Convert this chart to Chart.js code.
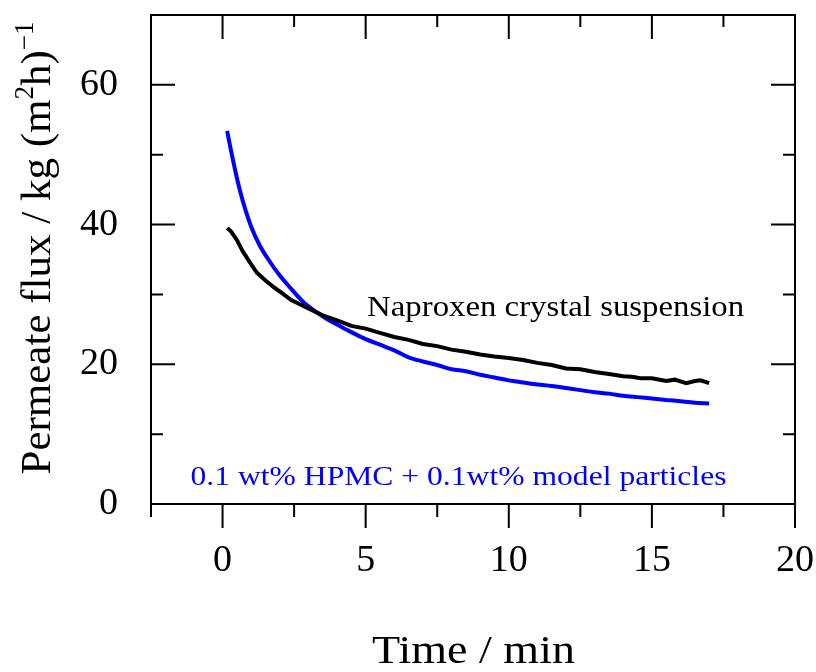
<!DOCTYPE html>
<html>
<head>
<meta charset="utf-8">
<script src="https://cdn.jsdelivr.net/npm/chart.js@4.4.1/dist/chart.umd.min.js"></script>
<style>
  html, body { margin: 0; padding: 0; background: #fff; }
  #wrap { width: 816px; height: 672px; }
</style>
</head>
<body>
<div id="wrap"><canvas id="fluxChart" width="816" height="672"></canvas></div>
<script>
// time (min) and permeate flux (kg/(m2 h))
var naproxenTime = [0.16, 0.3, 0.5, 0.7, 1.0, 1.2, 1.5, 1.8, 2.1, 2.4, 2.7, 3.0, 3.5, 4.0, 4.5, 5.0, 5.5, 6.0, 6.5, 7.0,
  7.5, 8.0, 8.5, 9.0, 9.5, 10.0, 10.5, 11.0, 11.5, 12.0, 12.5, 13.0, 13.5, 14.0, 14.3, 14.6, 15.0, 15.5, 15.8, 16.2, 16.5, 16.7, 17.0];
var naproxenFlux = [39.5, 39.0, 37.8, 36.2, 34.3, 33.1, 32.0, 31.0, 30.1, 29.2, 28.6, 28.0, 27.0, 26.3, 25.5, 25.1, 24.5, 23.9, 23.5, 22.9,
  22.6, 22.1, 21.8, 21.4, 21.1, 20.9, 20.6, 20.2, 19.9, 19.4, 19.3, 18.9, 18.6, 18.3, 18.2, 18.0, 18.0, 17.6, 17.8, 17.3, 17.6, 17.7, 17.3];

var hpmcTime = [0.16, 0.3, 0.45, 0.6, 0.8, 1.0, 1.3, 1.6, 2.0, 2.4, 2.8, 3.2, 3.6, 4.0, 4.5, 5.0, 5.5, 6.0, 6.5, 7.0,
  7.5, 8.0, 8.5, 9.0, 9.5, 10.0, 10.5, 11.0, 11.5, 12.0, 12.5, 13.0, 13.5, 14.0, 14.5, 15.0, 15.5, 16.0, 16.5, 17.0];
var hpmcFlux = [53.4, 50.5, 47.6, 45.0, 42.1, 39.7, 37.0, 35.0, 32.7, 30.8, 29.0, 27.7, 26.6, 25.7, 24.6, 23.6, 22.8, 22.0, 21.0, 20.4,
  19.9, 19.3, 19.0, 18.5, 18.1, 17.7, 17.4, 17.1, 16.9, 16.6, 16.3, 16.0, 15.8, 15.5, 15.3, 15.1, 14.9, 14.7, 14.5, 14.4];

var xTickLabels = [0, 5, 10, 15, 20];
var yTickLabels = [0, 20, 40, 60];

function toPoints(xs, ys) {
  return xs.map(function (x, i) { return { x: x, y: ys[i] }; });
}

var serif = '"Liberation Serif", "DejaVu Serif", serif';

function noPad(s) {
  s.paddingTop = 0; s.paddingBottom = 0; s.paddingLeft = 0; s.paddingRight = 0;
}

// the original uses a wider (Palatino-like) face, so stretch text to its width
function wideText(ctx, txt, x, y, font, width) {
  ctx.save();
  ctx.font = font;
  ctx.textAlign = 'left';
  var k = width / ctx.measureText(txt).width;
  ctx.translate(x, y);
  ctx.scale(k, 1);
  ctx.fillText(txt, 0, 0);
  ctx.restore();
}

// frame, ticks, titles and the two in-plot labels
var framePlugin = {
  id: 'frame',
  afterDraw: function (chart) {
    var ctx = chart.ctx;
    var xs = chart.scales.x, ys = chart.scales.y;
    var a = chart.chartArea;
    ctx.save();
    ctx.strokeStyle = '#000';
    ctx.lineWidth = 2;
    ctx.lineCap = 'butt';
    ctx.strokeRect(a.left, a.top, a.right - a.left, a.bottom - a.top);

    ctx.beginPath();
    for (var v = -2.5; v <= 20.001; v += 2.5) {
      var px = xs.getPixelForValue(v);
      var major = Math.abs(v % 5) < 0.001;
      // bottom ticks point outward, top ticks inward
      ctx.moveTo(px, a.bottom);
      ctx.lineTo(px, a.bottom + (major ? 24 : 13));
      ctx.moveTo(px, a.top);
      ctx.lineTo(px, a.top + (major ? 24 : 12));
    }
    for (var w = 0; w <= 70; w += 10) {
      var py = ys.getPixelForValue(w);
      var len = (w % 20 === 0) ? 24 : 12;
      ctx.moveTo(a.left, py);
      ctx.lineTo(a.left + len, py);
      ctx.moveTo(a.right, py);
      ctx.lineTo(a.right - len, py);
    }
    ctx.stroke();

    // in-plot labels
    ctx.textBaseline = 'alphabetic';
    ctx.fillStyle = '#000';
    wideText(ctx, 'Naproxen crystal suspension', xs.getPixelForValue(5.05), ys.getPixelForValue(26.9), '29px ' + serif, 377);
    ctx.fillStyle = '#0000ff';
    wideText(ctx, '0.1 wt% HPMC + 0.1wt% model particles', xs.getPixelForValue(-1.12), ys.getPixelForValue(2.7), '28px ' + serif, 536);

    // x title
    ctx.fillStyle = '#000';
    wideText(ctx, 'Time / min', 372, 663, '39px ' + serif, 203);

    // y title with superscripts
    ctx.translate(50, 248);
    ctx.rotate(-Math.PI / 2);
    var big = '43px ' + serif, small = '27px ' + serif;
    var parts = [['Permeate flux / kg (m', big, 0], ['2', small, -17], ['h)', big, 0], ['\u22121', small, -17]];
    var total = 0;
    parts.forEach(function (p) { ctx.font = p[1]; total += ctx.measureText(p[0]).width; });
    var cx = -total / 2;
    ctx.textAlign = 'left';
    parts.forEach(function (p) {
      ctx.font = p[1];
      ctx.fillText(p[0], cx, p[2]);
      cx += ctx.measureText(p[0]).width;
    });
    ctx.restore();
  }
};

var chart = new Chart(document.getElementById('fluxChart').getContext('2d'), {
  type: 'line',
  data: {
    datasets: [
      {
        label: 'Naproxen crystal suspension',
        data: toPoints(naproxenTime, naproxenFlux),
        borderColor: '#000000',
        borderWidth: 4,
        pointRadius: 0,
        tension: 0,
        fill: false
      },
      {
        label: '0.1 wt% HPMC + 0.1wt% model particles',
        data: toPoints(hpmcTime, hpmcFlux),
        borderColor: '#0000ff',
        borderWidth: 4,
        pointRadius: 0,
        cubicInterpolationMode: 'monotone',
        fill: false
      }
    ]
  },
  options: {
    responsive: false,
    animation: false,
    devicePixelRatio: 1,
    layout: { autoPadding: false, padding: { left: 0, right: 21, top: 15, bottom: 0 } },
    plugins: { legend: { display: false }, tooltip: { enabled: false } },
    scales: {
      x: {
        type: 'linear',
        min: -2.5,
        max: 20,
        grid: { display: false, drawTicks: false },
        border: { display: false },
        afterBuildTicks: function (s) { s.ticks = xTickLabels.map(function (v) { return { value: v }; }); },
        afterFit: function (s) { s.height = 168; noPad(s); },
        ticks: {
          padding: 34,
          maxRotation: 0,
          autoSkip: false,
          color: '#000',
          font: { family: serif, size: 38 }
        }
      },
      y: {
        min: 0,
        max: 70,
        grid: { display: false, drawTicks: false },
        border: { display: false },
        afterBuildTicks: function (s) { s.ticks = yTickLabels.map(function (v) { return { value: v }; }); },
        afterFit: function (s) { s.width = 151; noPad(s); },
        ticks: {
          padding: 33,
          autoSkip: false,
          color: '#000',
          font: { family: serif, size: 38 }
        }
      }
    }
  },
  plugins: [framePlugin]
});
</script>
</body>
</html>
